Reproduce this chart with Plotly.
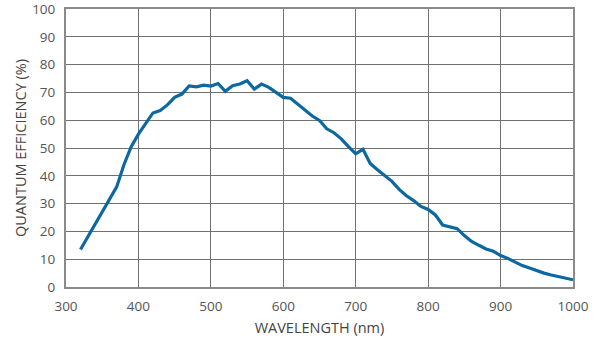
import plotly.graph_objects as go

wavelength_nm = list(range(320, 1001, 10))
qe_percent = [13.5, 18, 22.5, 27.5, 31.5, 36, 44, 50.5, 55, 59, 62.6, 63.5, 65.5, 68.2, 69.4,
              72.3, 72, 72.6, 72.3, 73.2, 70.4, 72.4, 73, 74.2, 71.2, 73, 71.8, 70, 68.2, 67.9,
              65.8, 63.8, 61.5, 59.9, 56.9, 55.5, 53.3, 50.5, 47.9, 49.5, 44.4, 42.2, 40, 38,
              35.1, 32.8, 31.1, 29, 27.9, 25.9, 22.3, 21.5, 21, 18.5, 16.4, 15, 13.7, 12.9,
              11.3, 10.3, 8.9, 7.7, 6.8, 5.8, 5, 4.3, 3.7, 3.2, 2.6]

x_ticks = list(range(300, 1001, 100))
y_ticks = list(range(0, 101, 10))
x_title = "WAVELENGTH (nm)"
y_title = "QUANTUM EFFICIENCY (%)"

fig = go.Figure()
fig.add_trace(go.Scatter(x=wavelength_nm, y=qe_percent, mode="lines",
                         line=dict(color="#0b68a0", width=3.2, shape="linear"),
                         hoverinfo="skip", showlegend=False))

font_family = "'Open Sans', Lato, sans-serif"
fig.update_layout(
    width=600, height=338,
    margin=dict(l=66, r=27, t=9, b=51),
    paper_bgcolor="white", plot_bgcolor="white",
    font=dict(family=font_family, color="#555555", size=13),
    xaxis=dict(range=[300, 1000], tickvals=x_ticks, ticktext=[str(v) for v in x_ticks],
               showgrid=True, gridcolor="#707070", gridwidth=1,
               showline=True, linecolor="#8a8a8a", linewidth=2, mirror=True,
               zeroline=False, ticks="", ticklabelstandoff=6, automargin=False,
               ticklabeloverflow="allow",
               tickfont=dict(size=13.5, color="#555555"),
               title=dict(text=x_title, font=dict(size=14.5, color="#444444"), standoff=9)),
    yaxis=dict(range=[0, 100], tickvals=y_ticks, ticktext=[str(v) for v in y_ticks],
               showgrid=True, gridcolor="#707070", gridwidth=1,
               showline=True, linecolor="#8a8a8a", linewidth=2, mirror=True,
               zeroline=False, ticks="", ticklabelstandoff=6, automargin=False,
               ticklabeloverflow="allow",
               tickfont=dict(size=13.5, color="#555555"),
               title=dict(text=y_title, font=dict(size=14.5, color="#444444"), standoff=2)),
)

fig.write_html("out.html")
